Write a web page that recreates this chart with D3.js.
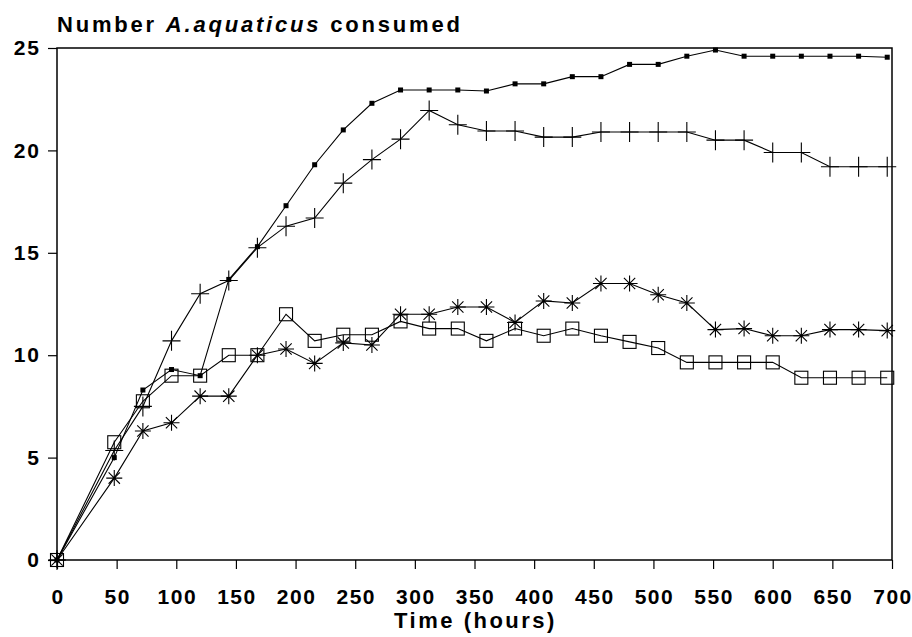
<!DOCTYPE html>
<html>
<head>
<meta charset="utf-8">
<script src="https://cdn.jsdelivr.net/npm/d3@7"></script>
<style>
  body { margin: 0; background: #fff; }
  text { font-family: "Liberation Sans", Arial, sans-serif; font-weight: bold; fill: #000; }
</style>
</head>
<body>
<script>
(function(){

    //sampling times (hours)
    var hours = [0, 48, 72, 96, 120, 144, 168, 192, 216, 240, 264, 288, 312, 336, 360,
                 384, 408, 432, 456, 480, 504, 528, 552, 576, 600, 624, 648, 672, 696];

    //small filled squares
    var seriesDot = [0, 5.0, 8.3, 9.3, 9.0, 13.7, 15.3, 17.3, 19.3, 21.0, 22.3, 22.95, 22.95, 22.95, 22.9,
                     23.25, 23.25, 23.6, 23.6, 24.2, 24.2, 24.6, 24.9, 24.6, 24.6, 24.6, 24.6, 24.6, 24.55];
    //plus signs
    var seriesPlus = [0, 5.35, 7.5, 10.7, 13.0, 13.65, 15.25, 16.3, 16.7, 18.4, 19.55, 20.55, 21.95, 21.25, 20.95,
                      20.95, 20.65, 20.65, 20.9, 20.9, 20.9, 20.9, 20.5, 20.5, 19.9, 19.9, 19.2, 19.2, 19.2];
    //open squares
    var seriesSquare = [0, 5.75, 7.75, 9.0, 9.0, 10.0, 10.0, 12.0, 10.7, 11.0, 11.0, 11.65, 11.3, 11.3, 10.7,
                        11.3, 10.95, 11.3, 10.95, 10.65, 10.35, 9.65, 9.65, 9.65, 9.65, 8.9, 8.9, 8.9, 8.9];
    //asterisks
    var seriesStar = [0, 4.0, 6.3, 6.7, 8.0, 8.0, 10.0, 10.3, 9.6, 10.6, 10.5, 12.0, 12.0, 12.35, 12.35,
                      11.6, 12.65, 12.55, 13.5, 13.5, 12.95, 12.55, 11.25, 11.3, 10.95, 10.95, 11.25, 11.25, 11.2];

    var xTicks = [0, 50, 100, 150, 200, 250, 300, 350, 400, 450, 500, 550, 600, 650, 700];
    var yTicks = [0, 5, 10, 15, 20, 25];

    var width = 912, height = 637;
    var left = 57, right = 892, top = 48, bottom = 560;

    var svg = d3.select("body").append("svg")
        .attr("width", width)
        .attr("height", height);

    var x = d3.scaleLinear().domain([0, 700]).range([left, right]);
    var y = d3.scaleLinear().domain([0, 25]).range([bottom, top]);

    //frame
    svg.append("rect")
        .attr("x", left).attr("y", top)
        .attr("width", right - left).attr("height", bottom - top)
        .attr("fill", "none").attr("stroke", "#000").attr("stroke-width", 1.5);

    //x axis
    var xAxis = svg.append("g")
        .attr("transform", "translate(0," + bottom + ")")
        .call(d3.axisBottom(x).tickValues(xTicks).tickSize(9).tickPadding(20).tickFormat(d3.format("d")));
    xAxis.select(".domain").remove();
    xAxis.selectAll("line").attr("stroke-width", 1.2);
    xAxis.selectAll("text")
        .style("font-size", "21px")
        .style("letter-spacing", "1.5px")
        .attr("dx", "0.5px");

    //y axis
    var yAxis = svg.append("g")
        .attr("transform", "translate(" + left + ",0)")
        .call(d3.axisLeft(y).tickValues(yTicks).tickSize(9).tickPadding(7).tickFormat(d3.format("d")));
    yAxis.select(".domain").remove();
    yAxis.selectAll("line").attr("stroke-width", 1.2);
    yAxis.selectAll("text")
        .style("font-size", "21px")
        .style("letter-spacing", "2px");

    //titles
    var title = svg.append("text")
        .attr("x", left)
        .attr("y", 32)
        .style("font-size", "22px")
        .style("letter-spacing", "2.8px");
    title.append("tspan").text("Number ");
    title.append("tspan").style("font-style", "italic").text("A.aquaticus");
    title.append("tspan").text(" consumed");

    svg.append("text")
        .attr("x", (left + right) / 2 + 1)
        .attr("y", 628)
        .attr("text-anchor", "middle")
        .style("font-size", "22px")
        .style("letter-spacing", "2.5px")
        .text("Time (hours)");

    var line = d3.line()
        .x(function(d){ return x(d[0]); })
        .y(function(d){ return y(d[1]); });

    function pairs(vals){
        return hours.map(function(h, i){ return [h, vals[i]]; });
    }

    function drawLine(vals){
        svg.append("path")
            .datum(pairs(vals))
            .attr("d", line)
            .attr("fill", "none")
            .attr("stroke", "#000")
            .attr("stroke-width", 1.1);
    }

    [seriesDot, seriesPlus, seriesSquare, seriesStar].forEach(drawLine);

    //markers
    svg.selectAll(".dot")
        .data(pairs(seriesDot))
        .enter().append("rect")
        .attr("class", "dot")
        .attr("x", function(d){ return x(d[0]) - 2.5; })
        .attr("y", function(d){ return y(d[1]) - 2.5; })
        .attr("width", 5).attr("height", 5)
        .attr("fill", "#000");

    svg.selectAll(".sq")
        .data(pairs(seriesSquare))
        .enter().append("rect")
        .attr("class", "sq")
        .attr("x", function(d){ return x(d[0]) - 6.5; })
        .attr("y", function(d){ return y(d[1]) - 6.5; })
        .attr("width", 13).attr("height", 13)
        .attr("fill", "none")
        .attr("stroke", "#000")
        .attr("stroke-width", 1.1);

    var plusPath = "M-9,0H9M0,-10V10";
    svg.selectAll(".plus")
        .data(pairs(seriesPlus))
        .enter().append("path")
        .attr("class", "plus")
        .attr("transform", function(d){ return "translate(" + x(d[0]) + "," + y(d[1]) + ")"; })
        .attr("d", plusPath)
        .attr("fill", "none")
        .attr("stroke", "#000")
        .attr("stroke-width", 1.1);

    var r = 8, k = r * 0.7071;
    var starPath = "M" + (-r) + ",0H" + r + "M0," + (-r) + "V" + r +
        "M" + (-k) + "," + (-k) + "L" + k + "," + k + "M" + (-k) + "," + k + "L" + k + "," + (-k);
    svg.selectAll(".star")
        .data(pairs(seriesStar))
        .enter().append("path")
        .attr("class", "star")
        .attr("transform", function(d){ return "translate(" + x(d[0]) + "," + y(d[1]) + ")"; })
        .attr("d", starPath)
        .attr("fill", "none")
        .attr("stroke", "#000")
        .attr("stroke-width", 1.1);

})();
</script>
</body>
</html>
